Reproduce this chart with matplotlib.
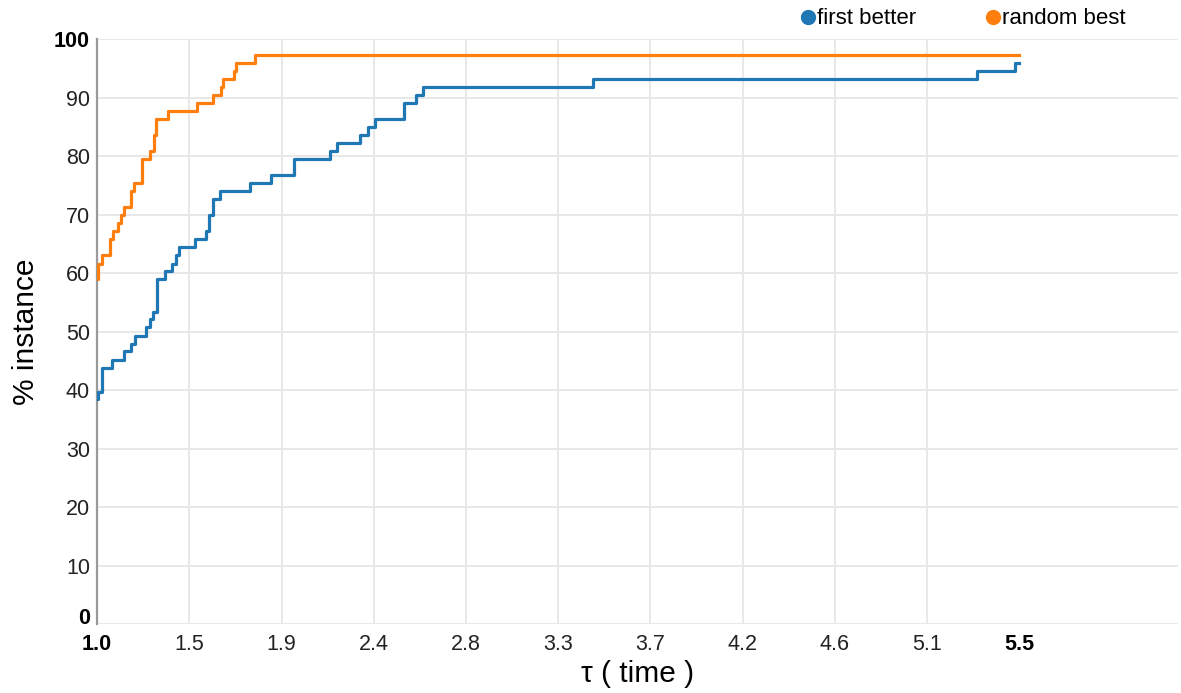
import matplotlib
matplotlib.use("Agg")
import matplotlib.pyplot as plt
from matplotlib.lines import Line2D

plt.rcParams['font.family'] = ['Liberation Sans', 'DejaVu Sans']

# performance profile: share of instances solved within tau * best time
first_better_tau = [1.000, 1.005, 1.025, 1.073, 1.130, 1.167, 1.184, 1.240, 1.257, 1.273,
                    1.293, 1.330, 1.367, 1.385, 1.400, 1.478, 1.530, 1.548, 1.567, 1.600,
                    1.746, 1.850, 1.960, 2.137, 2.170, 2.283, 2.320, 2.356, 2.500, 2.556,
                    2.590, 3.420, 5.295, 5.480, 5.500]
first_better_pct = [38.4, 39.7, 43.8, 45.2, 46.6, 47.9, 49.3, 50.7, 52.1, 53.4,
                    58.9, 60.3, 61.6, 63.0, 64.4, 65.8, 67.1, 69.9, 72.6, 74.0,
                    75.3, 76.7, 79.5, 80.8, 82.2, 83.6, 84.9, 86.3, 89.0, 90.4,
                    91.8, 93.2, 94.5, 95.9, 95.9]

random_best_tau = [1.000, 1.005, 1.024, 1.063, 1.080, 1.100, 1.115, 1.130, 1.167, 1.180,
                   1.220, 1.260, 1.276, 1.290, 1.346, 1.490, 1.566, 1.607, 1.615, 1.670,
                   1.680, 1.770, 5.500]
random_best_pct = [58.9, 61.6, 63.0, 65.8, 67.1, 68.5, 69.9, 71.2, 74.0, 75.3,
                   79.5, 80.8, 83.6, 86.3, 87.7, 89.0, 90.4, 91.8, 93.2, 94.5,
                   95.9, 97.3, 97.3]

x_ticks = [1.0, 1.45, 1.9, 2.35, 2.8, 3.25, 3.7, 4.15, 4.6, 5.05, 5.5]
x_tick_labels = ['1.0', '1.5', '1.9', '2.4', '2.8', '3.3', '3.7', '4.2', '4.6', '5.1', '5.5']
y_ticks = list(range(0, 101, 10))

blue = '#1f77b4'
orange = '#ff7f0e'

fig = plt.figure(figsize=(11.81, 6.93), dpi=100)
ax = fig.add_axes([97 / 1181, 1 - 624 / 693, (1178 - 97) / 1181, (624 - 39) / 693])

ax.step(first_better_tau, first_better_pct, where='post', color=blue, lw=2.3, zorder=3)
ax.step(random_best_tau, random_best_pct, where='post', color=orange, lw=2.3, zorder=3)

ax.set_xlim(1.0, 1.0 + (1178 - 97) / 205.0)
ax.set_ylim(0, 100)

ax.set_xticks(x_ticks)
ax.set_xticklabels(x_tick_labels)
ax.set_yticks(y_ticks)
ax.set_yticklabels([str(v) for v in y_ticks])
ax.tick_params(length=0, labelsize=15.5, labelcolor='#222222')
ax.tick_params(axis='y', pad=5)
ax.tick_params(axis='x', pad=7.5)

for lbl in (ax.get_xticklabels()[0], ax.get_xticklabels()[-1],
            ax.get_yticklabels()[0], ax.get_yticklabels()[-1]):
    lbl.set_fontweight('bold')
    lbl.set_color('black')
# sit the bottom "0" on the zero line so it clears "1.0"
ax.get_yticklabels()[0].set_va('baseline')

ax.grid(True, color='#e8e8e8', lw=1.4, zorder=0)
ax.set_axisbelow(True)
ax.xaxis.get_gridlines()[-1].set_visible(False)

for side in ('top', 'right', 'bottom'):
    ax.spines[side].set_visible(False)
ax.spines['left'].set_color('#999999')
ax.spines['left'].set_linewidth(1.6)

ax.set_xlabel('τ ( time )', fontsize=21.5, labelpad=3)
ax.set_ylabel('% instance', fontsize=21.5, labelpad=10)

handles = [Line2D([], [], ls='none', marker='o', ms=10, color=blue),
           Line2D([], [], ls='none', marker='o', ms=10, color=orange)]
fig.legend(handles, ['first better', 'random best'], ncol=2, frameon=False,
           loc='center left', bbox_to_anchor=(801 / 1181, 1 - 19 / 693),
           fontsize=16, handlelength=0.6, handletextpad=0.1,
           columnspacing=3.2, borderaxespad=0, borderpad=0)

fig.savefig('out.png', dpi=100)
